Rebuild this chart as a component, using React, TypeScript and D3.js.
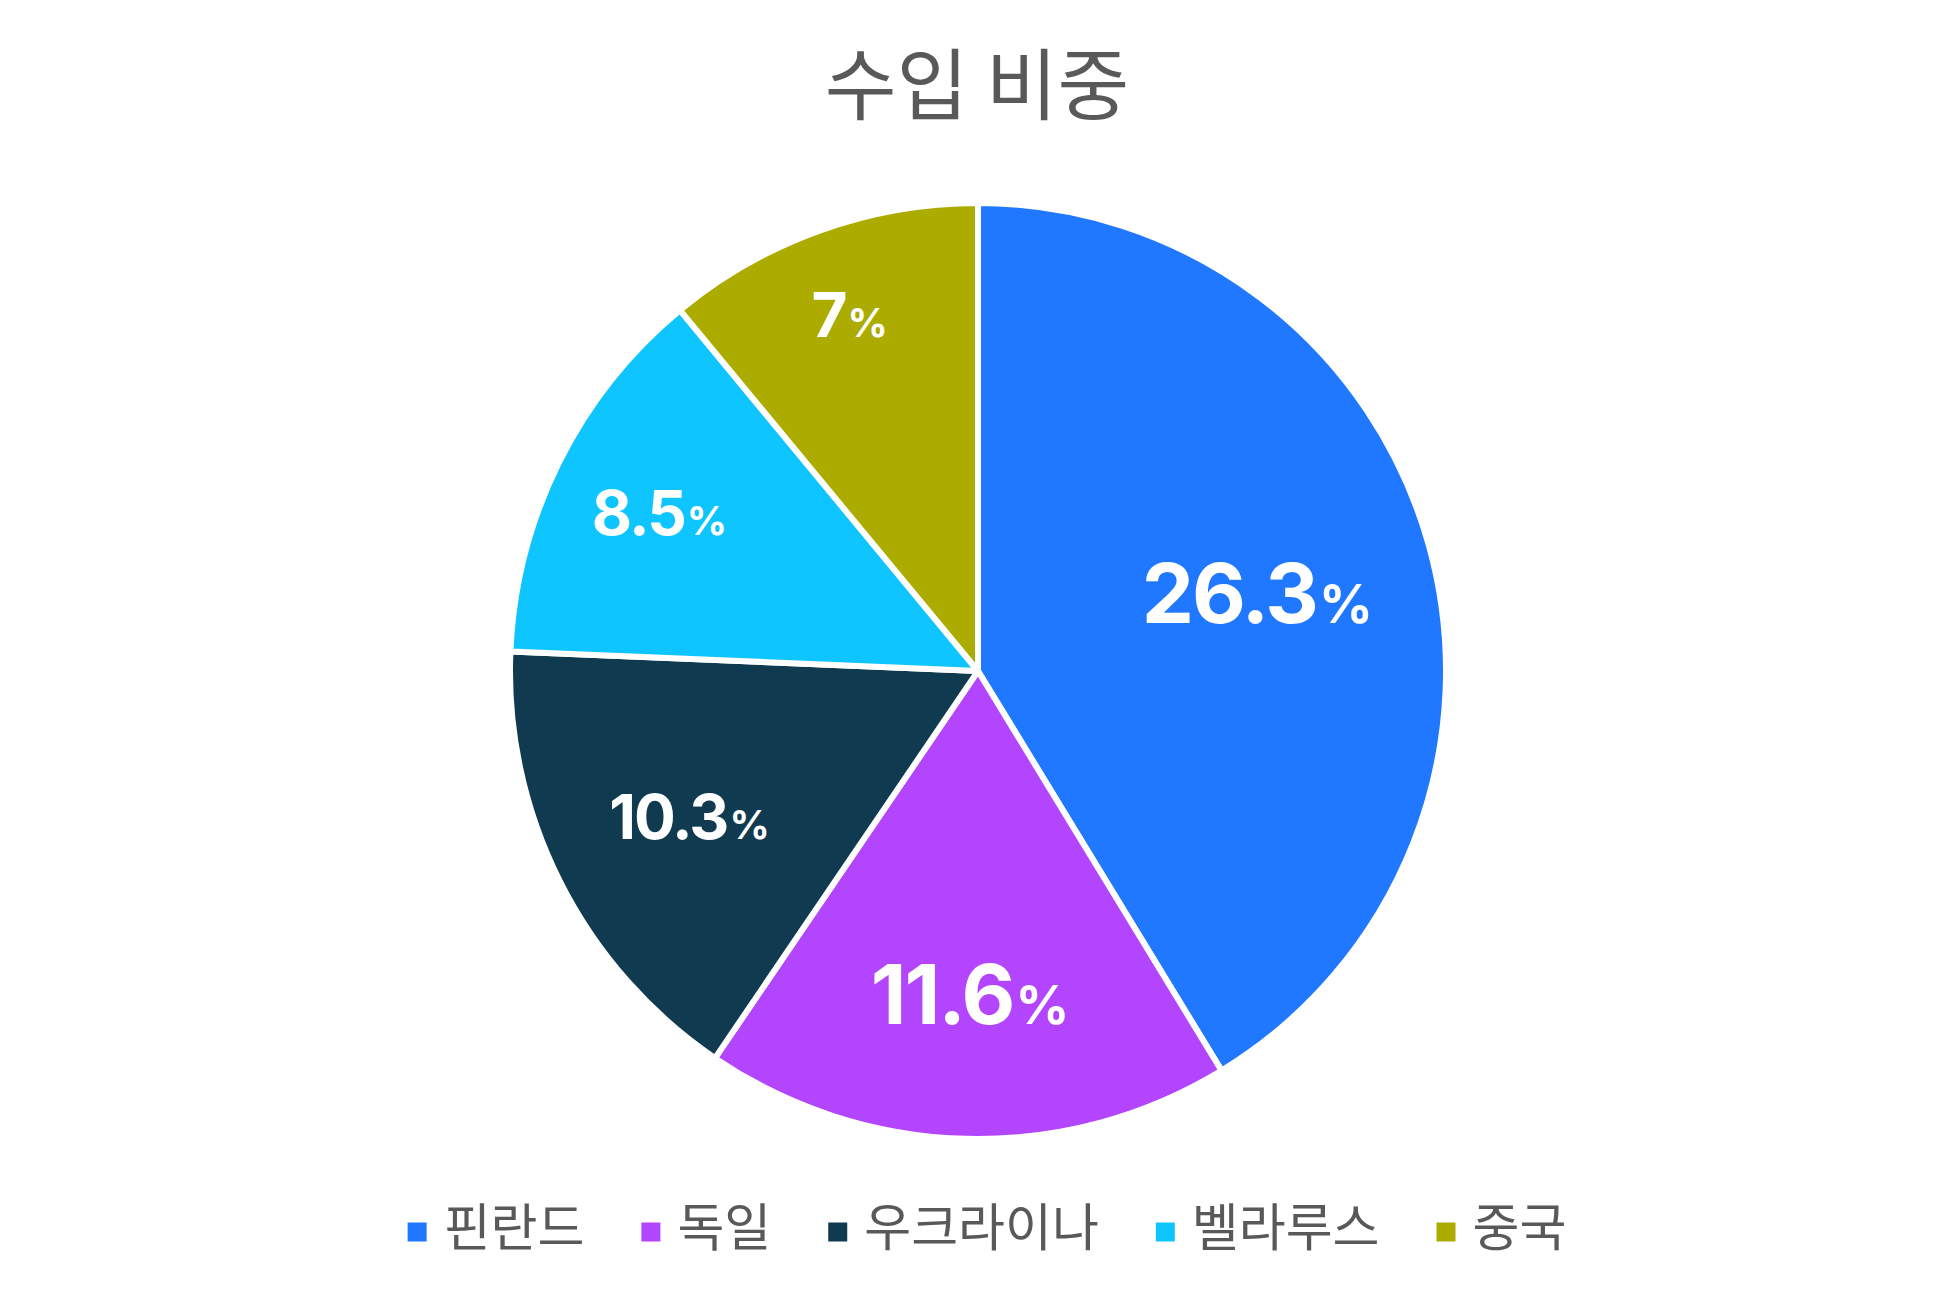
import React, { useEffect, useRef } from 'react';
import * as d3 from 'd3';

// chart data
const title = '수입 비중';
const countries = ['핀란드', '독일', '우크라이나', '벨라루스', '중국'];
const shares = [26.3, 11.6, 10.3, 8.5, 7];
const colors = ['#1f78ff', '#b345ff', '#0f3a4f', '#0fc5ff', '#acac00'];

const W = 1953;
const H = 1302;
const KR = '"Noto Sans CJK KR", "Noto Sans", sans-serif';
const NUM = 'Inter, "Noto Sans", sans-serif';

export default function App() {
    const ref = useRef<SVGSVGElement>(null);

    useEffect(() => {
        const svg = d3.select(ref.current);
        svg.selectAll('*').remove();

        const cx = 978;
        const cy = 671;
        const r = 468;

        const data = countries.map((name, i) => ({ name, value: shares[i], color: colors[i] }));

        //title
        svg.append('text')
            .attr('x', 977)
            .attr('y', 80)
            .attr('text-anchor', 'middle')
            .attr('dominant-baseline', 'central')
            .attr('font-family', KR)
            .attr('font-size', 78)
            .attr('fill', '#595959')
            .text(title);

        const pie = d3.pie<any>().value(d => d.value).sort(null);
        const arcs = pie(data);
        const arc = d3.arc<any>().innerRadius(0).outerRadius(r);

        const g = svg.append('g').attr('transform', `translate(${cx}, ${cy})`);

        g.selectAll('path')
            .data(arcs)
            .enter()
            .append('path')
            .attr('d', arc)
            .attr('fill', d => d.data.color)
            .attr('stroke', '#fff')
            .attr('stroke-width', 6)
            .attr('stroke-linejoin', 'round');

        //labels sit further out on the narrow slices
        const labelR = d3.scaleLinear().domain([7, 8.5, 10.3, 11.6, 26.3]).range([0.81, 0.76, 0.69, 0.69, 0.62]).clamp(true);
        const labelSize = d3.scaleThreshold<number, number>().domain([11]).range([62, 83]);

        arcs.forEach(a => {
            const mid = (a.startAngle + a.endAngle) / 2;
            const rr = r * labelR(a.data.value);
            const fs = labelSize(a.data.value);
            const x = Math.sin(mid) * rr;
            const y = -Math.cos(mid) * rr + fs * 0.727 / 2;
            const t = g.append('text')
                .attr('x', x)
                .attr('y', y)
                .attr('text-anchor', 'middle')
                .attr('font-family', NUM)
                .attr('font-weight', 700)
                .attr('font-size', fs)
                .attr('letter-spacing', -2)
                .attr('fill', '#fff');
            t.append('tspan').text(String(a.data.value));
            t.append('tspan').attr('font-size', fs * 0.64).attr('dx', 2).attr('letter-spacing', 0).text('%');
        });

        //legend
        const legend = svg.append('g').attr('transform', `translate(0, 1224)`);
        const box = 19;
        const boxGap = 17;
        const itemGap = 57;
        const items = data.map(d => {
            const item = legend.append('g');
            item.append('rect')
                .attr('y', 8 - box / 2)
                .attr('width', box)
                .attr('height', box)
                .attr('fill', d.color);
            const txt = item.append('text')
                .attr('x', box + boxGap)
                .attr('dominant-baseline', 'central')
                .attr('font-family', KR)
                .attr('font-size', 51)
                .attr('fill', '#595959')
                .text(d.name);
            const w = (txt.node() as SVGTextElement).getComputedTextLength();
            return { item, width: box + boxGap + w };
        });
        const total = d3.sum(items, d => d.width) + itemGap * (items.length - 1);
        let x0 = 987 - total / 2;
        items.forEach(it => {
            it.item.attr('transform', `translate(${x0}, 0)`);
            x0 += it.width + itemGap;
        });
    }, []);

    return (
        <svg
            ref={ref}
            width={W}
            height={H}
            style={{ position: 'absolute', left: 0, top: 0, background: '#fff' }}
        ></svg>
    );
}
